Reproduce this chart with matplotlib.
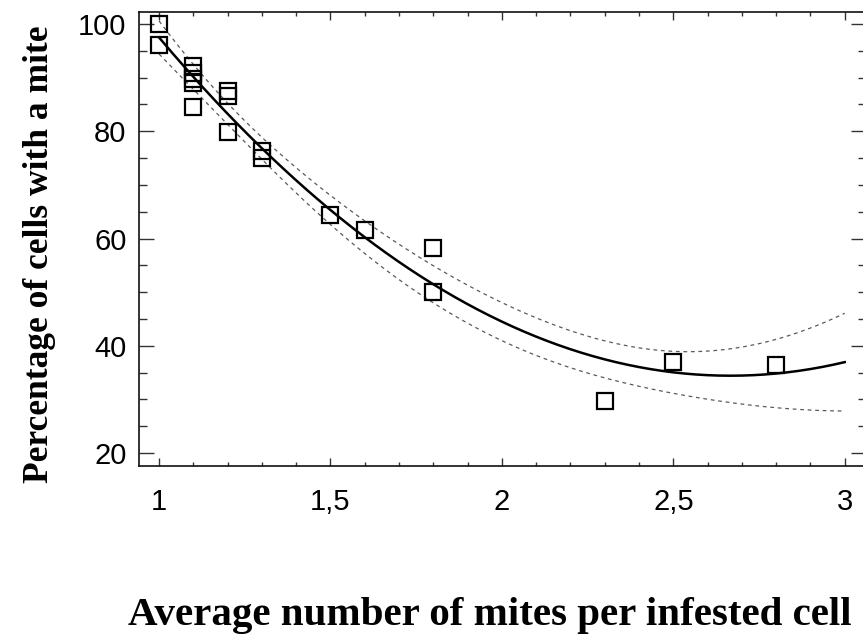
import numpy as np
import matplotlib
matplotlib.use("Agg")
import matplotlib.pyplot as plt
from matplotlib.ticker import MultipleLocator

# ---- data ----
mites_per_cell = [1.0, 1.0, 1.1, 1.1, 1.1, 1.1, 1.1, 1.2, 1.2, 1.2,
                  1.3, 1.3, 1.5, 1.6, 1.8, 1.8, 2.3, 2.5, 2.8]
pct_cells = [100.0, 96.1, 92.2, 90.9, 89.7, 89.0, 84.5, 87.5, 86.5, 79.9,
             76.3, 75.1, 64.3, 61.5, 58.3, 50.1, 29.7, 37.0, 36.4]
xtick_values = [1, 1.5, 2, 2.5, 3]
xtick_labels = ["1", "1,5", "2", "2,5", "3"]
ytick_values = [20, 40, 60, 80, 100]
ytick_labels = ["20", "40", "60", "80", "100"]
x_title = "Average number of mites per infested cell"
y_title = "Percentage of cells with a mite"
t_value = 2.12  # Student t, 95 %, n-3 degrees of freedom

x = np.array(mites_per_cell)
y = np.array(pct_cells)

# quadratic regression with 95% confidence band for the mean
X = np.column_stack([np.ones_like(x), x, x ** 2])
beta, *_ = np.linalg.lstsq(X, y, rcond=None)
resid = y - X @ beta
s2 = resid @ resid / (len(x) - 3)
XtX_inv = np.linalg.inv(X.T @ X)
xf = np.linspace(1.0, 3.0, 300)
Xf = np.column_stack([np.ones_like(xf), xf, xf ** 2])
yf = Xf @ beta
se = np.sqrt(s2 * np.einsum("ij,jk,ik->i", Xf, XtX_inv, Xf))
upper = yf + t_value * se
lower = yf - t_value * se

W, H = 863, 637
fig = plt.figure(figsize=(W / 100, H / 100), dpi=100)
ax = fig.add_axes([139 / W, (H - 466) / H, (866 - 139) / W, (466 - 12) / H])

ax.plot(xf, upper, color="#5a5a5a", lw=0.9, dashes=(3, 3))
ax.plot(xf, lower, color="#5a5a5a", lw=0.9, dashes=(3, 3))
ax.plot(xf, yf, color="black", lw=1.8)
ax.plot(x, y, linestyle="none", marker="s", markersize=11.5,
        markerfacecolor="none", markeredgecolor="black", markeredgewidth=1.6)

ax.set_xlim(0.9416, 3.062)
ax.set_ylim(17.58, 102.24)

ax.set_xticks(xtick_values)
ax.set_xticklabels(xtick_labels, fontfamily="Liberation Sans", fontsize=21)
ax.set_yticks(ytick_values)
ax.set_yticklabels(ytick_labels, fontfamily="Liberation Sans", fontsize=21)
ax.xaxis.set_minor_locator(MultipleLocator(0.1))
ax.yaxis.set_minor_locator(MultipleLocator(5))

ax.tick_params(axis="x", which="major", direction="in", length=5.8, width=1,
               top=True, bottom=True, pad=16, color="#333333")
ax.tick_params(axis="x", which="minor", direction="in", length=3, width=1,
               top=True, bottom=True, color="#333333")
ax.tick_params(axis="y", which="major", direction="in", length=10.8, width=1,
               left=True, right=True, pad=9, color="#333333")
ax.tick_params(axis="y", which="minor", direction="in", length=5.8, width=1,
               left=True, right=True, color="#333333")
for sp in ax.spines.values():
    sp.set_linewidth(1.2)
    sp.set_color("#111111")

fig.text(40 / W, 1 - 254 / H, y_title, rotation=90, ha="center", va="center",
         fontfamily="Liberation Serif", fontweight="bold", fontsize=25.5)
fig.text(128 / W, 1 - 625 / H, x_title, ha="left", va="baseline",
         fontfamily="Liberation Serif", fontweight="bold", fontsize=29.5)

fig.savefig("out.png", dpi=100)
